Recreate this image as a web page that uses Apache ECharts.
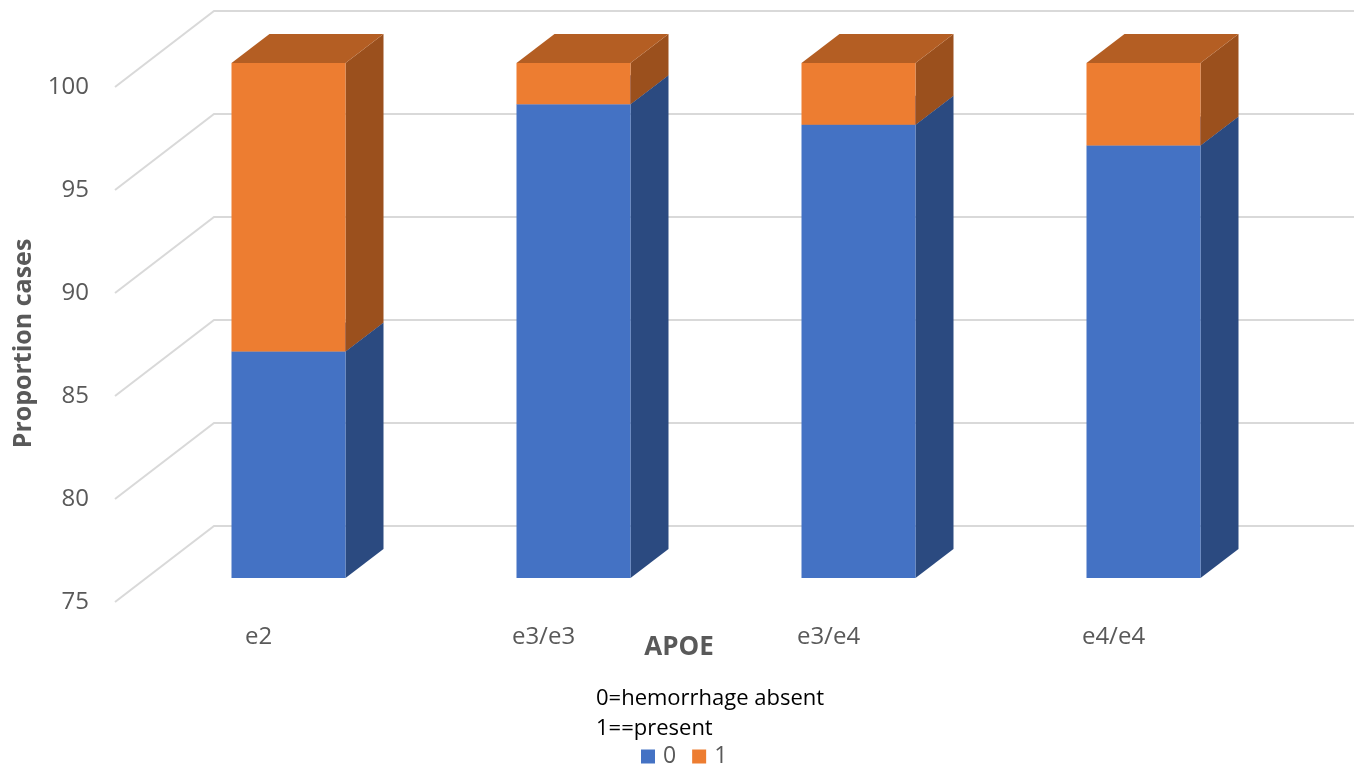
<!DOCTYPE html>
<html>
<head>
<meta charset="utf-8">
<script src="https://cdn.jsdelivr.net/npm/echarts@6/dist/echarts.min.js"></script>
<style>html,body{margin:0;padding:0;background:#fff;}#c{width:1361px;height:768px;}</style>
</head>
<body>
<div id="c"></div>
<script>
// ---- data ----
var categories = ['e2', 'e3/e3', 'e3/e4', 'e4/e4'];
var absent = [86, 98, 97, 96];   // 0 = hemorrhage absent
var present = [14, 2, 3, 4];     // 1 = present
var yTicks = [75, 80, 85, 90, 95, 100];
var seriesNames = ['0', '1'];

// ---- styles ----
var FONT = '"Open Sans", "Noto Sans", sans-serif';
var GRAY = '#595959';
var BAR_DX = 38, BAR_DY = 29;      // bar depth
var WALL_FRONT_DX = 31, WALL_FRONT_DY = 24;
var WALL_BACK_DX = 68, WALL_BACK_DY = 52;
var faces = [
  {front: '#4472C4', side: '#2B4A80', top: '#3A62A8'},
  {front: '#ED7D31', side: '#9B501D', top: '#B45E23'}
];

function barRender(si) {
  return function (params, api) {
    var idx = api.value(0), lo = api.value(1), hi = api.value(2);
    var pLo = api.coord([idx, lo]);
    var pHi = api.coord([idx, hi]);
    var w = api.size([1, 0])[0] * 0.4;
    var x0 = pLo[0] - w / 2, x1 = pLo[0] + w / 2;
    var yT = pHi[1], yB = pLo[1];
    var f = faces[si];
    return {
      type: 'group',
      children: [
        {type: 'polygon', shape: {points: [[x1, yB], [x1 + BAR_DX, yB - BAR_DY], [x1 + BAR_DX, yT - BAR_DY], [x1, yT]]},
          style: {fill: f.side}},
        {type: 'polygon', shape: {points: [[x0, yT], [x1, yT], [x1 + BAR_DX, yT - BAR_DY], [x0 + BAR_DX, yT - BAR_DY]]},
          style: {fill: f.top}},
        {type: 'rect', shape: {x: x0, y: yT, width: w, height: yB - yT}, style: {fill: f.front}}
      ]
    };
  };
}

var absentData = categories.map(function (c, i) { return [i, yTicks[0], absent[i]]; });
var presentData = categories.map(function (c, i) { return [i, absent[i], absent[i] + present[i]]; });
var gridData = yTicks.map(function (v) { return [0, v]; });

var chart = echarts.init(document.getElementById('c'));
chart.setOption({
  backgroundColor: '#fff',
  animation: false,
  title: {
    text: '0=hemorrhage absent\n1==present',
    left: 591, top: 679,
    textStyle: {fontFamily: FONT, fontSize: 22, fontWeight: 'normal', color: '#000', lineHeight: 30}
  },
  legend: {
    data: seriesNames,
    left: 636, top: 740,
    icon: 'rect', itemWidth: 14, itemHeight: 14, itemGap: 16,
    textStyle: {fontFamily: FONT, fontSize: 23, color: GRAY, padding: [0, 0, 0, 3]}
  },
  grid: {left: 146, right: 75, top: 63, bottom: 190},
  xAxis: {
    type: 'category',
    data: categories,
    name: 'APOE',
    nameLocation: 'middle',
    nameGap: 57,
    nameMoveOverlap: false,
    nameTextStyle: {fontFamily: FONT, fontSize: 26, fontWeight: 'bold', color: GRAY, padding: [0, 74, 0, 0]},
    axisLine: {show: false}, axisTick: {show: false},
    axisLabel: {fontFamily: FONT, fontSize: 24, color: GRAY, margin: 47, padding: [0, 60, 0, 0]},
    splitLine: {show: false}
  },
  yAxis: {
    type: 'value',
    min: 75, max: 100, interval: 5,
    name: 'Proportion cases',
    nameLocation: 'middle',
    nameGap: 110,
    nameMoveOverlap: false,
    nameTextStyle: {fontFamily: FONT, fontSize: 25, fontWeight: 'bold', color: GRAY, padding: [0, 46, 0, 0]},
    axisLine: {show: false}, axisTick: {show: false},
    axisLabel: {fontFamily: FONT, fontSize: 24, color: GRAY, margin: 57, verticalAlign: 'top', lineHeight: 48},
    splitLine: {show: false}
  },
  series: [
    {
      type: 'custom', name: 'grid', silent: true, z: 1,
      data: gridData,
      renderItem: function (params, api) {
        var p = api.coord([0, api.value(1)]);
        var cs = params.coordSys;
        var y = p[1];
        return {
          type: 'polyline',
          shape: {points: [
            [cs.x - WALL_FRONT_DX, y + WALL_FRONT_DY],
            [cs.x + WALL_BACK_DX, y - WALL_BACK_DY],
            [cs.x + cs.width + WALL_BACK_DX, y - WALL_BACK_DY]
          ]},
          style: {stroke: '#D9D9D9', lineWidth: 2, fill: null}
        };
      }
    },
    {
      type: 'custom', name: seriesNames[0], z: 3,
      itemStyle: {color: faces[0].front},
      encode: {x: 0, y: [1, 2]},
      data: absentData,
      renderItem: barRender(0)
    },
    {
      type: 'custom', name: seriesNames[1], z: 3,
      itemStyle: {color: faces[1].front},
      encode: {x: 0, y: [1, 2]},
      data: presentData,
      renderItem: barRender(1)
    }
  ]
});
</script>
</body>
</html>
